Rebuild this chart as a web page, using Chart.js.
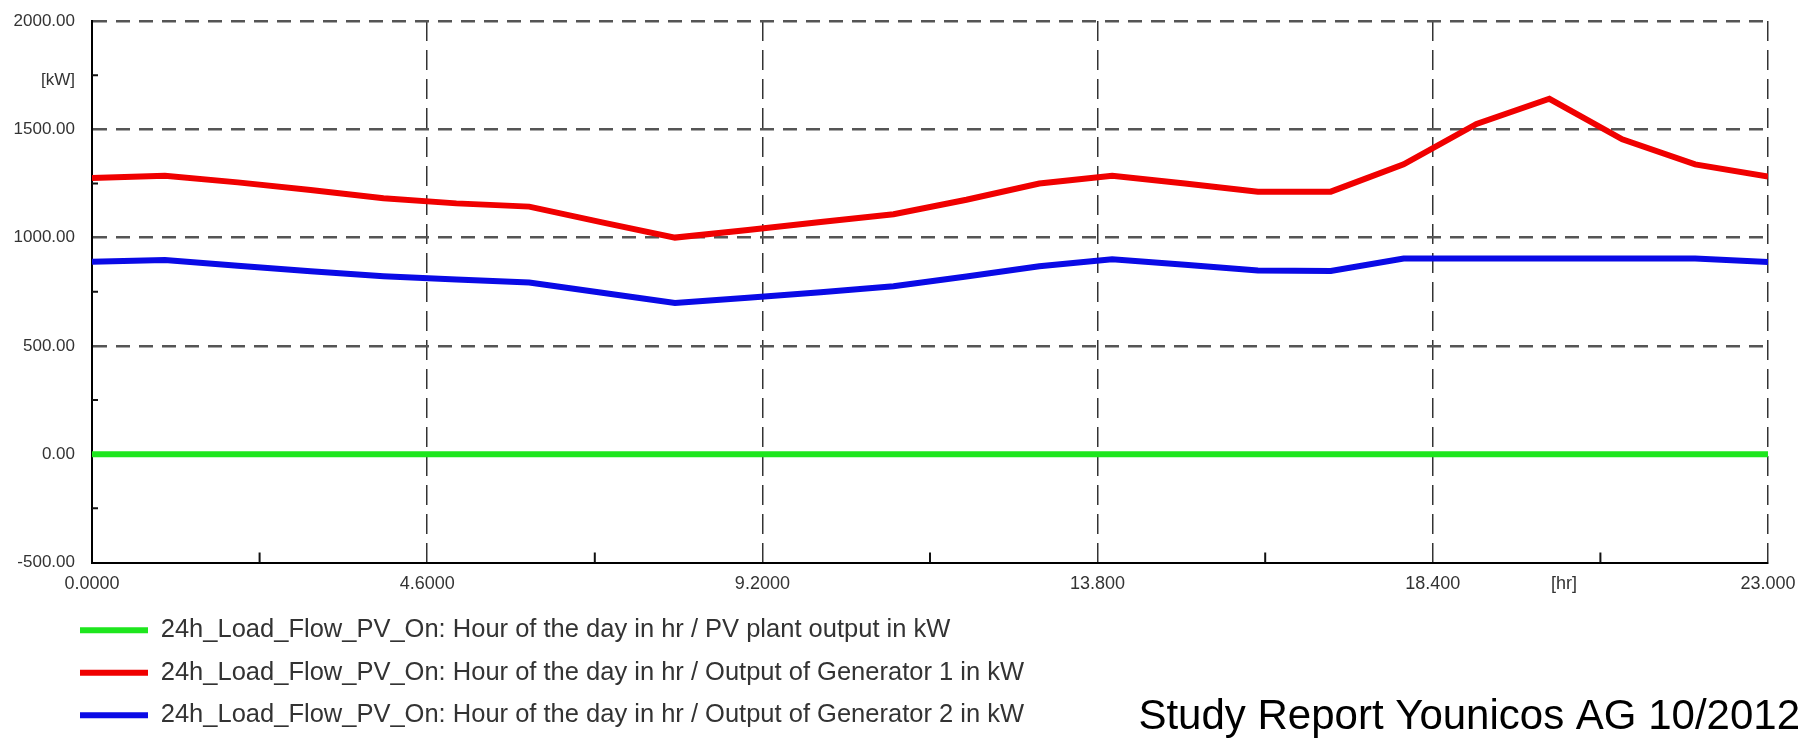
<!DOCTYPE html>
<html>
<head>
<meta charset="utf-8">
<script src="https://cdn.jsdelivr.net/npm/chart.js@4/dist/chart.umd.min.js"></script>
<style>
html,body{margin:0;padding:0;background:#fff;}
#wrap{width:1805px;height:741px;position:relative;}
</style>
</head>
<body>
<div id="wrap"><canvas id="c"></canvas></div>
<script>
// ---- data ----
const hours = [0,1,2,3,4,5,6,7,8,9,10,11,12,13,14,15,16,17,18,19,20,21,22,23];
const pvOutput   = [0,0,0,0,0,0,0,0,0,0,0,0,0,0,0,0,0,0,0,0,0,0,0,0];
const gen1Output = [1275,1286,1255,1220,1182,1158,1143,1070,1000,1035,1072,1108,1175,1250,1285,1250,1212,1212,1338,1525,1641,1454,1338,1282];
const gen2Output = [889,897,870,845,822,806,793,745,698,722,748,775,820,868,900,875,848,846,903,903,903,903,903,887];
const seriesLabels = [
  '24h_Load_Flow_PV_On: Hour of the day in hr / PV plant output in kW',
  '24h_Load_Flow_PV_On: Hour of the day in hr / Output of Generator 1 in kW',
  '24h_Load_Flow_PV_On: Hour of the day in hr / Output of Generator 2 in kW'
];
const seriesColors = ['#1ee61e', '#f00000', '#0a0ae6'];
const xTickValues = [0, 4.6, 9.2, 13.8, 18.4, 20.2, 23];
const xTickLabels = ['0.0000', '4.6000', '9.2000', '13.800', '18.400', '[hr]', '23.000'];
const xMinorTicks = [2.3, 6.9, 11.5, 16.1, 20.7];
const yTickValues = [-500, 0, 500, 1000, 1500, 1725, 2000];
const yTickLabels = ['-500.00', '0.00', '500.00', '1000.00', '1500.00', '[kW]', '2000.00'];
const yMinorTicks = [-250, 250, 750, 1250, 1750];
const footerText = 'Study Report Younicos AG 10/2012';

const sans = "'Liberation Sans', Arial, sans-serif";

const series = [pvOutput, gen1Output, gen2Output];
const datasets = series.map((vals, k) => ({
  label: seriesLabels[k],
  data: hours.map((h, i) => ({x: h, y: vals[i]})),
  borderColor: seriesColors[k],
  backgroundColor: seriesColors[k],
  pointBorderColor: seriesColors[k],
  pointBorderWidth: 6,
  borderWidth: 6,
  pointRadius: 0,
  tension: 0,
  fill: false
}));

const zeroPad = (s) => { s.paddingTop = 0; s.paddingBottom = 0; s.paddingLeft = 0; s.paddingRight = 0; };

const extras = {
  id: 'extras',
  afterLayout(chart) {
    if (chart.legend) { chart.legend.left = 63; }
  },
  afterDatasetsDraw(chart) {
    const ctx = chart.ctx;
    const xs = chart.scales.x, ys = chart.scales.y;
    const area = chart.chartArea;
    ctx.save();
    ctx.strokeStyle = '#111';
    ctx.lineWidth = 2;
    ctx.beginPath();
    yMinorTicks.forEach(v => {
      const y = ys.getPixelForValue(v);
      ctx.moveTo(area.left, y); ctx.lineTo(area.left + 6, y);
    });
    xMinorTicks.forEach(v => {
      const x = xs.getPixelForValue(v);
      ctx.moveTo(x, area.bottom); ctx.lineTo(x, area.bottom - 10);
    });
    ctx.stroke();
    ctx.restore();
  },
  afterDraw(chart) {
    const ctx = chart.ctx;
    ctx.save();
    ctx.font = "42px 'Liberation Sans', Arial, sans-serif";
    ctx.fillStyle = '#000';
    ctx.textAlign = 'right';
    ctx.textBaseline = 'alphabetic';
    ctx.fillText(footerText, 1800, 729);
    ctx.restore();
  }
};

new Chart(document.getElementById('c'), {
  type: 'line',
  data: { datasets },
  options: {
    responsive: true,
    maintainAspectRatio: false,
    animation: false,
    devicePixelRatio: 1,
    layout: { padding: { left: 0, right: 37, top: 21, bottom: 3 } },
    plugins: {
      tooltip: { enabled: false },
      legend: {
        position: 'bottom',
        align: 'start',
        labels: {
          usePointStyle: true,
          pointStyle: 'line',
          pointStyleWidth: 68,
          color: '#333',
          padding: 17,
          font: { family: sans, size: 25.5 }
        }
      }
    },
    scales: {
      x: {
        type: 'linear',
        min: 0, max: 23,
        afterBuildTicks: (s) => { s.ticks = xTickValues.map(v => ({value: v})); },
        afterFit: (s) => { s.height = 38; zeroPad(s); },
        ticks: {
          autoSkip: false, maxRotation: 0, minRotation: 0,
          padding: 11, color: '#333',
          font: { family: sans, size: 18 },
          callback: (v, i) => xTickLabels[i]
        },
        grid: {
          drawTicks: false,
          lineWidth: 1.5,
          color: (c) => (c.index === 0 || xTickLabels[c.index] === '[hr]') ? 'rgba(0,0,0,0)' : '#333'
        },
        border: { display: true, color: '#000', width: 2, dash: [20, 9] }
      },
      y: {
        type: 'linear',
        min: -500, max: 2000,
        afterBuildTicks: (s) => { s.ticks = yTickValues.map(v => ({value: v})); },
        afterFit: (s) => { s.width = 92; zeroPad(s); },
        ticks: {
          autoSkip: false, padding: 17, color: '#333',
          font: { family: sans, size: 17 },
          callback: (v, i) => yTickLabels[i]
        },
        grid: {
          drawTicks: false,
          lineWidth: 2.5,
          color: (c) => (c.index === 0 || yTickLabels[c.index] === '[kW]') ? 'rgba(0,0,0,0)' : '#555'
        },
        border: { display: true, color: '#000', width: 2, dash: [14, 9] }
      }
    }
  },
  plugins: [extras]
});
</script>
</body>
</html>
